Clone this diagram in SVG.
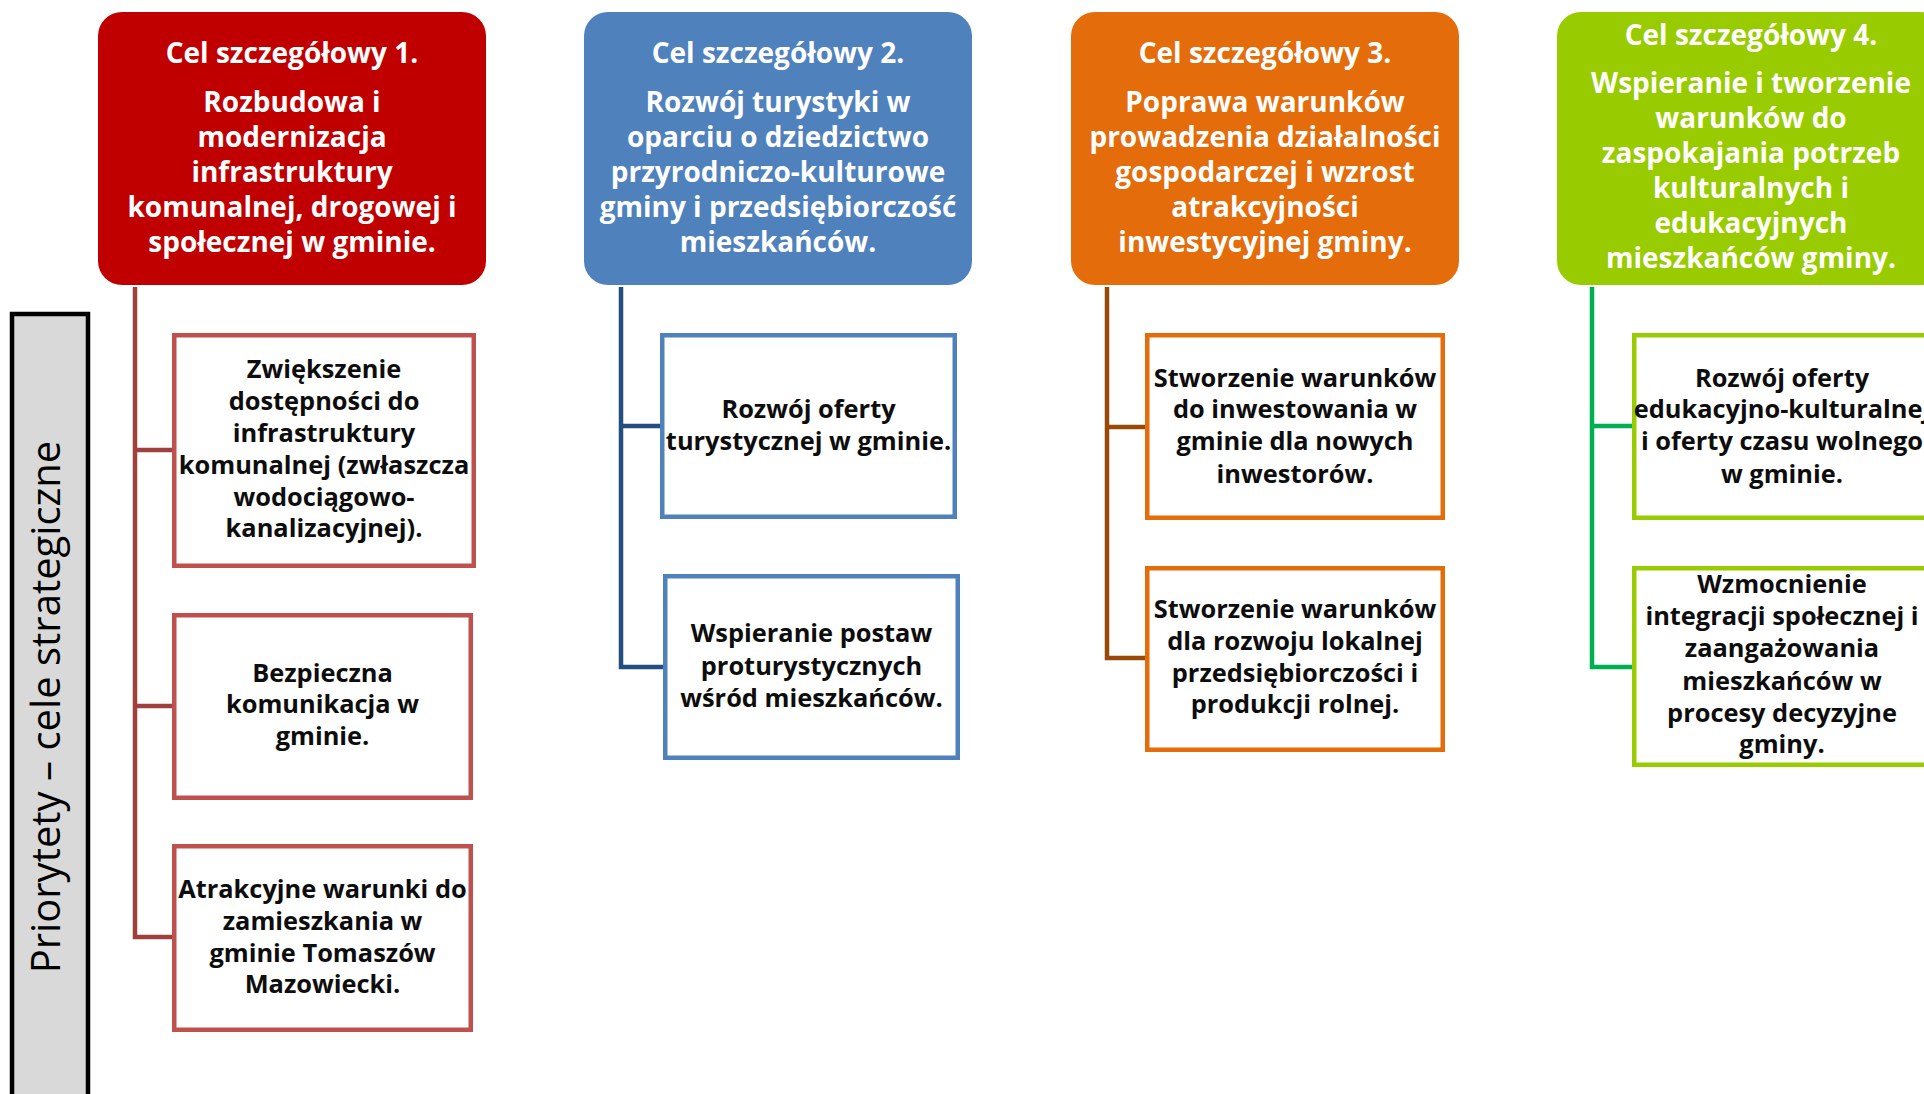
<svg xmlns="http://www.w3.org/2000/svg" width="1924" height="1094" viewBox="0 0 1924 1094">
<style>
.hd{font-family:"Open Sans","Noto Sans","Liberation Sans",sans-serif;font-weight:bold;font-size:28px;fill:#fff;text-anchor:middle}
.ch{font-family:"Open Sans","Noto Sans","Liberation Sans",sans-serif;font-weight:bold;font-size:25.4px;fill:#0d0d0d;text-anchor:middle}
.box{fill:#fff;stroke-width:4.5}
.con{fill:none;stroke-width:4.5;stroke-linejoin:miter}
</style>
<rect width="1924" height="1094" fill="#fff"/>
<g id="side">
<rect x="12" y="314" width="76" height="800" fill="#d9d9d9" stroke="#000" stroke-width="4.5"/>
<text transform="translate(60,707) rotate(-90)" font-family="'Open Sans','Noto Sans','Liberation Sans',sans-serif" font-size="40" fill="#000" text-anchor="middle">Priorytety – cele strategiczne</text>
</g>
<g id="connectors">
<path class="con" stroke="#a0403c" d="M135,287 V937 H172 M135,450 H172 M135,706 H172"/>
<path class="con" stroke="#254e80" d="M621,287 V667 H663 M621,426 H660"/>
<path class="con" stroke="#984807" d="M1107,287 V658 H1145 M1107,427 H1145"/>
<path class="con" stroke="#00b050" d="M1592,287 V667 H1632 M1592,426 H1632"/>
</g>
<g id="h1">
<rect x="98" y="12" width="388" height="273" rx="24" fill="#c00000"/>
<text class="hd"><tspan x="292" y="63">Cel szczegółowy 1.</tspan><tspan x="292" y="112">Rozbudowa i</tspan><tspan x="292" y="147">modernizacja</tspan><tspan x="292" y="182">infrastruktury</tspan><tspan x="292" y="217">komunalnej, drogowej i</tspan><tspan x="292" y="252">społecznej w gminie.</tspan></text>
</g>
<g id="h2">
<rect x="584" y="12" width="388" height="273" rx="24" fill="#4f81bd"/>
<text class="hd"><tspan x="778" y="63">Cel szczegółowy 2.</tspan><tspan x="778" y="112">Rozwój turystyki w</tspan><tspan x="778" y="147">oparciu o dziedzictwo</tspan><tspan x="778" y="182">przyrodniczo-kulturowe</tspan><tspan x="778" y="217">gminy i przedsiębiorczość</tspan><tspan x="778" y="252">mieszkańców.</tspan></text>
</g>
<g id="h3">
<rect x="1071" y="12" width="388" height="273" rx="24" fill="#e46c0a"/>
<text class="hd"><tspan x="1265" y="63">Cel szczegółowy 3.</tspan><tspan x="1265" y="112">Poprawa warunków</tspan><tspan x="1265" y="147">prowadzenia działalności</tspan><tspan x="1265" y="182">gospodarczej i wzrost</tspan><tspan x="1265" y="217">atrakcyjności</tspan><tspan x="1265" y="252">inwestycyjnej gminy.</tspan></text>
</g>
<g id="h4">
<rect x="1557" y="12" width="388" height="273" rx="24" fill="#99cc00"/>
<text class="hd"><tspan x="1751" y="45">Cel szczegółowy 4.</tspan><tspan x="1751" y="93">Wspieranie i tworzenie</tspan><tspan x="1751" y="128">warunków do</tspan><tspan x="1751" y="163">zaspokajania potrzeb</tspan><tspan x="1751" y="198">kulturalnych i</tspan><tspan x="1751" y="233">edukacyjnych</tspan><tspan x="1751" y="268">mieszkańców gminy.</tspan></text>
</g>
<g id="c1b1">
<rect class="box" stroke="#c0504d" x="174.25" y="335.25" width="299.5" height="230.5"/>
<text class="ch"><tspan x="324" y="378">Zwiększenie</tspan><tspan x="324" y="410">dostępności do</tspan><tspan x="324" y="442">infrastruktury</tspan><tspan x="324" y="474">komunalnej (zwłaszcza</tspan><tspan x="324" y="506">wodociągowo-</tspan><tspan x="324" y="537">kanalizacyjnej).</tspan></text>
</g>
<g id="c1b2">
<rect class="box" stroke="#c0504d" x="174.25" y="615.25" width="296.5" height="182.5"/>
<text class="ch"><tspan x="322.5" y="682">Bezpieczna</tspan><tspan x="322.5" y="713">komunikacja w</tspan><tspan x="322.5" y="745">gminie.</tspan></text>
</g>
<g id="c1b3">
<rect class="box" stroke="#c0504d" x="174.25" y="846.25" width="296.5" height="183.5"/>
<text class="ch"><tspan x="322.5" y="898">Atrakcyjne warunki do</tspan><tspan x="322.5" y="930">zamieszkania w</tspan><tspan x="322.5" y="962">gminie Tomaszów</tspan><tspan x="322.5" y="993">Mazowiecki.</tspan></text>
</g>
<g id="c2b1">
<rect class="box" stroke="#4f81bd" x="662.25" y="335.25" width="292.5" height="181.5"/>
<text class="ch"><tspan x="808.5" y="418">Rozwój oferty</tspan><tspan x="808.5" y="450">turystycznej w gminie.</tspan></text>
</g>
<g id="c2b2">
<rect class="box" stroke="#4f81bd" x="665.25" y="576.25" width="292.5" height="181.5"/>
<text class="ch"><tspan x="811.5" y="642">Wspieranie postaw</tspan><tspan x="811.5" y="675">proturystycznych</tspan><tspan x="811.5" y="707">wśród mieszkańców.</tspan></text>
</g>
<g id="c3b1">
<rect class="box" stroke="#e46c0a" x="1147.25" y="335.25" width="295.5" height="182.5"/>
<text class="ch"><tspan x="1295" y="387">Stworzenie warunków</tspan><tspan x="1295" y="418">do inwestowania w</tspan><tspan x="1295" y="450">gminie dla nowych</tspan><tspan x="1295" y="483">inwestorów.</tspan></text>
</g>
<g id="c3b2">
<rect class="box" stroke="#e46c0a" x="1147.25" y="568.25" width="295.5" height="181.5"/>
<text class="ch"><tspan x="1295" y="618">Stworzenie warunków</tspan><tspan x="1295" y="650">dla rozwoju lokalnej</tspan><tspan x="1295" y="682">przedsiębiorczości i</tspan><tspan x="1295" y="713">produkcji rolnej.</tspan></text>
</g>
<g id="c4b1">
<rect class="box" stroke="#99cc00" x="1634.25" y="335.25" width="299.5" height="182.5"/>
<text class="ch"><tspan x="1782" y="387">Rozwój oferty</tspan><tspan x="1782" y="418">edukacyjno-kulturalnej</tspan><tspan x="1782" y="450">i oferty czasu wolnego</tspan><tspan x="1782" y="483">w gminie.</tspan></text>
</g>
<g id="c4b2">
<rect class="box" stroke="#99cc00" x="1634.25" y="568.25" width="299.5" height="196.5"/>
<text class="ch"><tspan x="1782" y="593">Wzmocnienie</tspan><tspan x="1782" y="625">integracji społecznej i</tspan><tspan x="1782" y="657">zaangażowania</tspan><tspan x="1782" y="690">mieszkańców w</tspan><tspan x="1782" y="722">procesy decyzyjne</tspan><tspan x="1782" y="753">gminy.</tspan></text>
</g>
</svg>
